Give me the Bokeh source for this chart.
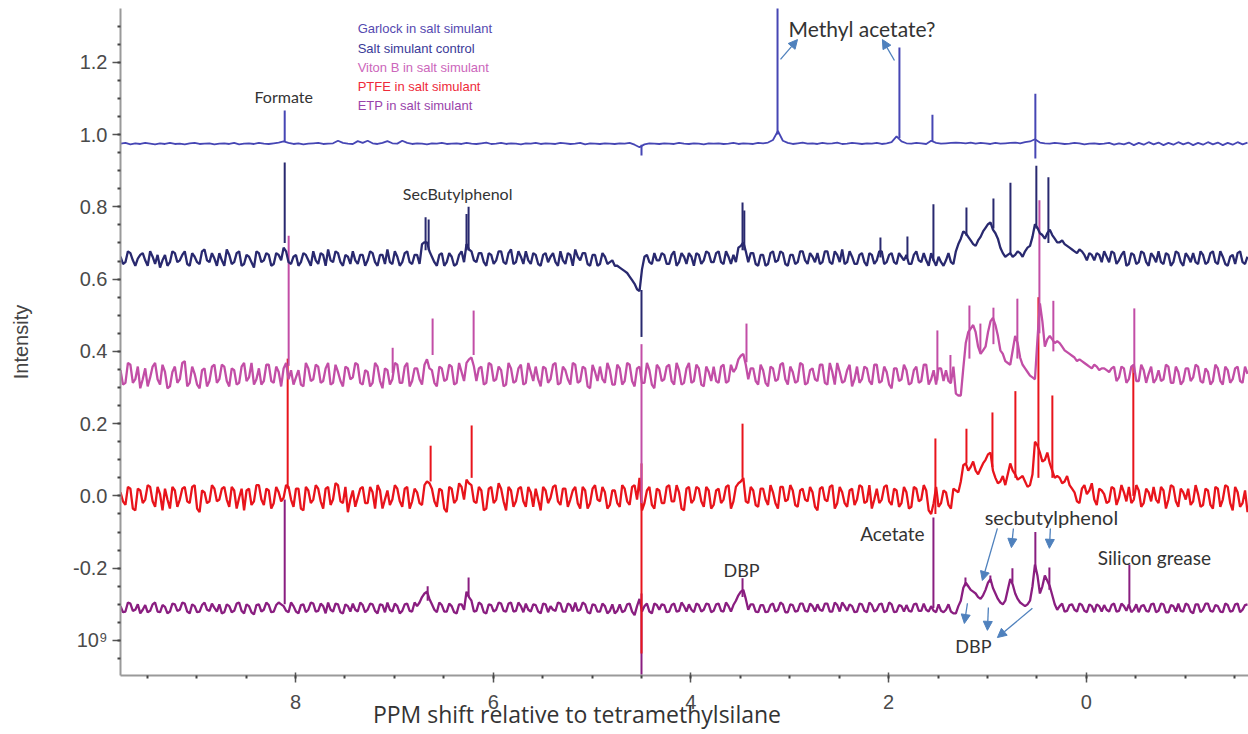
import numpy as np
from bokeh.plotting import figure
from bokeh.models import Range1d, FixedTicker, Label, Arrow, NormalHead, NumeralTickFormatter
from bokeh.embed import file_html
from bokeh.resources import INLINE

# ---------------- data ----------------
# spectra sampled on a ppm grid starting at 9.77 ppm, step 0.05 ppm (descending);
# the *_mid lists hold the readings half-way between consecutive grid points
PPM_START = 9.77
PPM_STEP = 0.05

series_names = ["Garlock in salt simulant", "Salt simulant control", "Viton B in salt simulant",
                "PTFE in salt simulant", "ETP in salt simulant"]
series_colors = ["#4646b4", "#29296f", "#c24ea6", "#e8141c", "#8a1e80"]
legend_colors = ["#5549b0", "#3a3a98", "#cc66bb", "#ee2a3a", "#9944aa"]

# stacking offsets (intensity units)
garlock_base = 0.975
control_base = 0.657
viton_base = 0.333
ptfe_base = 0.0
etp_base = -0.310

# baseline deviations, in units of 0.001
garlock_dev = [
    0, 2, -2, 1, -1, 2, 0, -2, 1, -1,
    2, -1, 0, -2, 1, 2, -1, 0, 1, -2,
    0, 1, -1, 2, -2, 0, 1, -1, 2, 0,
    -1, 1, 3, 6, 2, -1, 1, -2, 0, 1,
    2, -1, 0, 1, 8, 2, 0, -1, 7, 2,
    8, 1, -1, 2, 7, 1, 0, 8, 2, -1,
    1, 0, -2, 1, 0, 2, -1, 0, 1, -1,
    2, 0, -1, 1, 3, -1, 0, 2, -1, 1,
    0, -2, 1, 0, 2, -1, 1, 0, -1, 2,
    1, -1, 0, 2, -2, 1, 0, -1, 1, 0,
    -1, 1, 0, 2, -3, -10, -2, 1, 0, -1,
    1, 0, -1, 2, 0, -1, 1, 0, -2, 1,
    0, 1, -1, 0, 2, -1, 1, 0, -1, 2,
    1, 3, 10, 35, 8, 2, -1, 1, 3, 0,
    1, -1, 2, 0, 1, 3, -1, 0, 2, 1,
    -1, 1, 0, 2, -1, 1, 4, 20, 6, 1,
    0, 2, 1, -1, 8, 2, 0, 1, 2, 3,
    2, 1, 3, 0, 2, 1, -1, 2, 0, 1,
    2, 3, 1, 4, 6, 12, 3, 1, 0, 2,
    1, -1, 0, 2, 1, -2, 0, 1, -1, 0,
    2, -3, 1, -2, 3, -4, 2, -3, 4, -2,
    3, -4, 2, -3, 4, -2, 3, -4, 2, -3,
    4, -2, 3, -4, 2, -3, 4, -2, 3,
]

control_dev = [
    5, -10, 15, -20, 10, -5, 20, -15, -25, 10,
    -10, 15, -5, 20, -20, 5, -15, 25, -10, 0,
    15, -20, 10, -10, 20, -15, 5, -25, 15, -5,
    10, -15, 10, 30, -10, 5, -20, 15, -5, 20,
    -15, 10, 25, -10, 15, -20, 5, 20, -15, 10,
    -5, 15, -20, 10, 25, -15, 5, -10, 20, -15,
    10, 40, 45, 5, -20, 15, -10, 5, -15, 20,
    40, 20, -10, 15, -20, 10, -5, 20, -15, 25,
    -10, 5, 20, -15, 10, -20, 15, 5, -10, 20,
    -15, 10, 25, -5, 15, -20, 10, -15, 5, -10,
    -20, -25, -35, -50, -70, -90, 5, -10, 15, -5,
    10, -15, 20, -10, 5, 15, -20, 10, -5, 15,
    -10, 20, -15, 5, 10, 30, 45, -10, 15, -20,
    10, -15, 20, -5, 15, -20, 10, -10, 20, -15,
    5, 15, -10, 20, -15, 10, 25, -10, 5, -15,
    15, -20, 10, -5, 20, -10, 15, -15, 5, 10,
    -15, 20, -10, -5, 15, -20, -10, -5, -10, 20,
    55, 70, 50, 35, 60, 85, 100, 70, 30, 5,
    15, 10, 15, 20, 35, 95, 70, 55, 80, 55,
    45, 40, 30, 20, 25, 10, 15, -5, 10, 20,
    -10, 15, -5, 20, -15, 10, -10, 15, -20, 5,
    20, -15, 10, -10, 15, -20, 5, 15, -15, 10,
    -10, 20, -15, 5, -20, 10, 15, -10, 5,
]
control_mid = [
    -15, 20, -5, 0, 15, -20, 5, 10, -5, -20,
    20, -10, 10, -15, 15, -10, 20, -5, 15, -20,
    -5, 25, -15, 15, -20, 10, -10, 20, -10, 15,
    -20, 15, -5, 20, -15, 10, -10, 10, -20, -5,
    15, -20, -5, 20, -10, 10, -15, -5, 10, -20,
    20, -10, 10, -15, -10, 20, -20, 15, -10, 10,
    -15, 45, 20, -10, 10, -20, 15, -20, 10, -10,
    25, -5, 15, -10, 15, -15, 20, -10, 15, -15,
    20, -15, -5, 15, -15, 10, -10, 15, -20, -5,
    15, -20, 5, 15, -15, 10, -20, 15, -15, -5,
    -20, -30, -40, -60, -85, -30, 10, -15, -5, 15,
    -15, 10, -20, 15, -15, 5, 15, -15, 20, -10,
    15, -10, 20, -15, -10, 35, 20, 15, -15, 10,
    -20, 15, -10, 20, -15, 10, -15, 20, -5, 15,
    -10, -15, 20, -10, 20, -10, -15, 20, -15, 10,
    -10, 15, -15, 20, -15, 10, -10, 15, -5, -15,
    10, -5, 15, -20, -5, 5, -20, 15, -15, 40,
    75, 60, 40, 50, 75, 95, 80, 55, 15, 10,
    5, 20, 5, 30, 60, 85, 65, 70, 65, 45,
    50, 35, 25, 15, 20, -5, 10, 15, -10, 5,
    20, -15, 10, -20, 15, -15, 20, -10, 15, -10,
    -10, 15, -20, 20, -10, 15, -10, -10, 20, -15,
    15, -10, 20, -15, 5, -15, 20, -15,
]

viton_dev = [
    15, -20, 30, -10, -35, 20, -5, 35, -25, 10,
    -30, 25, -10, 40, -20, 5, -35, 20, -15, 30,
    -10, 25, -30, 15, -20, 35, -5, -25, 20, -15,
    30, -20, 10, 20, -10, -25, 15, -30, 20, -10,
    25, -15, 35, -20, 10, -30, 20, -5, 30, -25,
    10, -20, 25, -35, 15, -10, 30, -20, 35, -15,
    20, -25, 45, 15, -30, 20, -10, 25, -20, 10,
    35, 50, -15, 25, -20, 30, -10, 15, -25, 20,
    -15, 30, -20, 10, 25, -30, 20, -10, 35, -20,
    15, -25, 30, -15, 20, -35, 10, 25, -20, 15,
    -25, 20, -15, 30, -30, 25, -20, 15, -35, 20,
    -10, 30, -25, 15, -20, 35, -15, 20, -30, 10,
    25, -20, 30, -15, 10, 45, 60, -10, 20, -25,
    15, -30, 20, -10, 35, -25, 10, -15, 30, -20,
    20, -15, 30, -25, 10, 35, -20, 15, -30, 25,
    -10, 20, -25, 30, -15, 10, -35, 20, -10, 15,
    -20, 25, -15, 30, -10, -25, 20, 15, -20, -50,
    -55, 90, 130, 120, 60, 80, 150, 140, 70, 40,
    30, 110, 50, 20, 0, -10, 200, 80, 110, 90,
    90, 70, 60, 50, 45, 35, 25, 30, 15, 20,
    10, 25, -5, 20, -10, 30, -15, 15, 5, -20,
    15, -10, 25, -20, 10, -15, 20, -5, 25, -20,
    10, -15, 20, -25, 15, -10, 25, -20, 5,
]
viton_mid = [
    -25, 35, -20, 25, -10, -30, 25, -10, 30, -35,
    10, -20, 35, -30, 25, -25, 15, -30, 25, -20,
    30, -15, 20, -25, 25, -15, 35, -10, -25, 30,
    -15, 25, -30, 35, 15, -5, -25, 35, -15, 30,
    -20, 20, -25, 30, -15, 25, -10, 35, -20, 15,
    -30, 35, -15, 20, -25, 35, -20, 25, -30, 20,
    -10, 30, 20, -20, 25, -15, 30, -25, 35, -15,
    45, 25, 20, -25, 35, -15, 25, -30, 35, -20,
    20, -25, 35, -15, -10, 25, -20, 30, -25, 25,
    -10, 35, -20, 25, -30, 30, -15, -10, 35, -25,
    30, -25, 35, -15, 20, -20, 35, -25, 30, -15,
    25, -15, 35, -25, 20, -20, 30, -25, 25, -15,
    -15, 25, -20, 30, 20, 55, 30, 20, -15, 30,
    -20, 25, -15, 30, -10, 25, -20, 35, -25, 15,
    -10, 30, -20, 35, -25, 10, -15, 30, -10, -20,
    25, -15, 30, -20, 25, -25, 20, -15, 30, -25,
    15, -20, 30, -25, 15, 20, -15, -15, 25, -55,
    20, 120, 140, 80, 70, 120, 160, 110, 60, 35,
    70, 90, 30, 10, -5, 100, 150, 100, 100, 95,
    80, 65, 55, 40, 40, 30, 20, 25, 20, 15,
    20, -15, 25, -20, 25, -15, 30, -20, 25, -10,
    -15, 30, -20, 25, -25, 20, -15, 30, -15, 20,
    -25, 30, -15, 25, -20, 20, -15, 25,
]

ptfe_dev = [
    10, -25, 20, -40, 15, -10, 25, -30, 5, 20,
    -35, 15, -10, 25, -20, 30, -45, 10, -15, 20,
    -10, 25, -30, 15, -5, -40, 20, -15, 30, -25,
    15, -20, 10, -5, 25, -30, 20, -40, 15, -10,
    20, -35, 25, -10, 30, -20, -45, 15, -5, 25,
    -20, 10, 30, -35, 15, -10, 20, -30, 25, -15,
    10, -25, 40, 20, -30, 15, -45, 20, -10, 25,
    45, 30, -20, 15, -35, 25, -10, 20, -40, 15,
    -15, 25, -30, 10, 20, -40, 15, -5, 30, -25,
    20, -10, 25, -35, 15, -20, 30, -15, 10, -25,
    15, -30, 20, -25, 30, 50, -20, 25, -35, 15,
    -20, 30, -15, 10, -40, 25, -10, 20, -30, 15,
    -25, 20, -10, 30, -15, 35, 50, -20, 15, -30,
    20, -25, 10, -35, 25, -10, 15, -30, 20, -15,
    10, -40, 25, -15, 30, -20, 10, -30, 20, -10,
    25, -15, -35, 20, -10, 30, -25, 15, -20, 10,
    -30, 20, -10, 15, -50, 25, -20, 10, -35, 15,
    40, 90, 80, 70, 75, 100, 120, 50, 40, 30,
    90, 60, 50, 40, 30, 150, 120, 100, 90, 50,
    50, 40, 30, 10, -20, 30, 15, -10, 20, 5,
    -15, 20, -5, 10, 25, -10, 15, -20, 10, 25,
    -20, 15, -10, 25, -30, 10, 20, -15, 5, -25,
    15, -35, 20, -10, 25, -40, 10, -20, -45,
]
ptfe_mid = [
    -15, 25, -35, 20, -20, 30, -15, 25, -40, -10,
    25, -30, 20, -15, 25, -35, 15, -20, 30, -15,
    20, -10, 25, -35, 20, 15, -25, 30, -10, 20,
    -35, 25, -15, 30, -10, 20, -35, 25, -20, 30,
    -15, 20, -25, 35, -15, 25, -10, -30, 20, -20,
    25, -35, 15, -10, -25, 30, -15, 20, -35, 20,
    -20, 30, 35, -15, 20, -35, 25, -20, 35, -10,
    35, -15, 25, -40, 20, -20, 35, -15, 25, -30,
    20, -15, 25, -30, -10, 25, -20, 25, -15, 20,
    -30, 15, -20, 25, -35, 20, -10, 25, -35, 15,
    -20, 30, -15, 25, -10, -40, 15, -25, 20, -20,
    25, -15, 30, -35, 20, -20, 25, -15, 25, -35,
    15, -20, 25, -35, 25, 40, -15, 25, -25, 20,
    -10, 30, -20, 25, -15, 30, -25, 15, -10, 25,
    -30, 20, -10, 25, -35, 25, -20, 15, -25, 30,
    -20, 30, -10, -20, 25, -15, 20, -30, 25, -35,
    25, -15, 30, -40, -20, -30, 15, -25, 20, 10,
    85, 70, 95, 60, 90, 115, 70, 35, 55, 60,
    70, 45, 55, 25, 60, 140, 95, 120, 70, 55,
    35, 55, 20, -15, 20, 5, 35, -25, 15, -20,
    25, -25, 30, -15, -20, 30, -30, 20, -15, -10,
    25, -35, 30, -15, 20, -10, -25, 30, -30, 20,
    -25, 25, -30, 30, -20, 25, -30, 15,
]

etp_dev = [
    5, -10, 12, -5, -15, 8, -8, 15, -12, 3,
    -10, 10, -5, 12, -15, 5, -10, 15, -8, 0,
    10, -12, 5, -8, 15, -15, 5, -18, 10, -5,
    8, -10, 15, 5, -12, 5, -15, 10, -5, 12,
    -8, 5, 15, -10, 10, -15, 5, 12, -10, 8,
    -5, 10, -15, 8, 15, -10, 5, -8, 12, -10,
    5, 30, 45, 10, -12, 8, -10, 5, -15, 10,
    45, 20, -8, 10, -15, 8, -5, 12, -10, 15,
    -8, 5, 12, -10, 8, -15, 10, 5, -8, 12,
    -10, 8, 15, -5, 10, -15, 8, -10, 5, -8,
    -15, 10, -8, 12, -20, 25, 5, -10, 12, -5,
    8, -10, 12, -8, 5, 10, -12, 8, -5, 10,
    -8, 12, -10, 5, 8, 35, 50, -5, 10, -12,
    8, -10, 12, -5, 10, -12, 8, -8, 12, -10,
    5, 10, -8, 12, -10, 8, 15, -8, 5, -10,
    10, -12, 8, -5, 12, -8, 10, -10, 5, 8,
    -10, 12, -8, -5, 5, -12, -8, -5, -10, -15,
    20, 70, 50, 40, 25, 50, 80, 40, 15, 20,
    80, 40, 15, 5, 20, 120, 40, 90, 60, 10,
    5, -10, 8, -5, 12, -8, 10, -12, 5, 8,
    -10, 12, -8, 5, 10, -5, -12, 8, -10, 12,
    -8, 10, -12, 5, 12, -10, 8, -15, 10, -5,
    12, -10, 5, -12, 8, -8, 12, -5, 10,
]
etp_mid = [
    -12, 15, -8, 10, -5, -12, 10, -10, 8, -15,
    12, -8, 15, -10, 10, -12, 8, -5, 12, -10,
    -15, 10, -12, 12, -8, 10, -12, 8, -10, 15,
    -12, 8, 10, -8, 15, -10, 8, -12, 15, -10,
    12, -15, -5, 12, -12, 10, -10, -5, 15, -12,
    12, -8, 10, -12, -5, 12, -15, 10, -8, 15,
    15, 40, 25, -5, 15, -10, 12, -12, 10, -5,
    30, -10, 15, -12, 10, -10, 15, -8, 12, -10,
    15, -12, -5, 10, -10, 12, -12, -5, 15, -10,
    12, -10, -8, 15, -12, 10, -10, 12, -15, 10,
    -8, -12, 10, -10, 5, -10, 12, -15, 8, 10,
    -12, 8, -10, 15, -10, -5, 12, -10, 12, -12,
    10, -8, 15, -10, 20, 45, 25, 10, -10, 8,
    -12, 8, -10, 15, -12, 10, -10, 12, -8, 12,
    -10, -5, 12, -10, 15, -10, 5, 10, -12, 12,
    -8, 15, -10, 10, -12, 15, -12, 8, -10, -8,
    10, -8, 12, -10, -8, 10, -12, 10, -15, 5,
    55, 60, 45, 30, 35, 70, 55, 25, 10, 50,
    65, 25, 10, 10, 60, 90, 60, 75, 35, -5,
    12, -8, 10, -10, 8, -12, 5, 10, -10, -5,
    8, -10, 12, -8, -12, 10, 5, -8, 10, -12,
    12, -12, 8, -10, -8, 12, -10, 10, -12, 12,
    -8, 8, -10, 12, -10, 10, -12, 8,
]

# sharp lines: position (ppm), foot and tip intensity
garlock_spike_ppm = [8.109, 4.50, 3.124, 1.891, 1.557, 0.516]
garlock_spike_lo = [0.980, 0.972, 1.000, 0.990, 0.980, 0.934]
garlock_spike_hi = [1.067, 0.942, 1.360, 1.241, 1.055, 1.113]

control_spike_ppm = [8.109, 6.684, 6.653, 6.249, 6.27, 4.50, 3.478, 3.46, 2.083, 1.81, 1.547, 1.213, 0.94, 0.768, 0.506, 0.384]
control_spike_lo = [0.700, 0.680, 0.680, 0.680, 0.680, 0.570, 0.680, 0.680, 0.660, 0.660, 0.650, 0.720, 0.740, 0.670, 0.740, 0.700]
control_spike_hi = [0.923, 0.771, 0.765, 0.800, 0.780, 0.440, 0.812, 0.790, 0.715, 0.718, 0.807, 0.798, 0.823, 0.867, 0.914, 0.882]

viton_spike_ppm = [8.069, 7.017, 6.613, 6.198, 4.50, 3.438, 1.507, 1.375, 1.183, 1.072, 0.940, 0.698, 0.475, 0.334, -0.485]
viton_spike_lo = [0.360, 0.340, 0.390, 0.390, 0.420, 0.370, 0.320, 0.310, 0.380, 0.400, 0.420, 0.380, 0.450, 0.400, 0.340]
viton_spike_hi = [0.720, 0.410, 0.491, 0.513, -0.020, 0.477, 0.458, 0.390, 0.527, 0.477, 0.521, 0.546, 0.818, 0.540, 0.519]

ptfe_spike_ppm = [8.079, 6.633, 6.218, 4.50, 3.478, 1.527, 1.213, 0.950, 0.718, 0.485, 0.344, -0.475]
ptfe_spike_lo = [0.020, 0.040, 0.050, 0.090, 0.050, -0.050, 0.090, 0.080, 0.050, 0.050, 0.050, 0.000]
ptfe_spike_hi = [0.380, 0.139, 0.195, -0.436, 0.200, 0.159, 0.186, 0.231, 0.290, 0.550, 0.278, 0.360]

etp_spike_ppm = [8.109, 6.663, 6.249, 4.50, 3.478, 1.547, 1.223, 0.971, 0.748, 0.516, 0.374, -0.435]
etp_spike_lo = [-0.300, -0.290, -0.280, -0.270, -0.280, -0.310, -0.250, -0.240, -0.240, -0.200, -0.260, -0.300]
etp_spike_hi = [-0.010, -0.250, -0.226, -0.495, -0.228, -0.060, -0.226, -0.220, -0.200, -0.100, -0.198, -0.190]

xtick_values = [8, 6, 4, 2, 0]
ytick_values = [-0.4, -0.2, 0.0, 0.2, 0.4, 0.6, 0.8, 1.0, 1.2]


def trace_xy(base, dev, mid):
    x = list(PPM_START - PPM_STEP * np.arange(len(dev)))
    y = list(base + np.array(dev) / 1000.0)
    if mid:
        xm = PPM_START - PPM_STEP * (np.arange(len(mid)) + 0.5)
        x += list(xm)
        y += list(base + np.array(mid) / 1000.0)
    order = np.argsort(-np.array(x), kind="stable")
    return np.array(x)[order], np.array(y)[order]


# ---------------- figure ----------------
p = figure(width=1248, height=734, output_backend="svg", toolbar_location=None,
           x_range=Range1d(9.77, -1.64), y_range=Range1d(-0.497, 1.349),
           min_border_left=120, min_border_right=0, min_border_top=8, min_border_bottom=59)
p.outline_line_color = None
p.grid.visible = False
p.background_fill_color = "white"

traces = [
    (etp_base, etp_dev, etp_mid, etp_spike_ppm, etp_spike_lo, etp_spike_hi, series_colors[4], 2.3),
    (ptfe_base, ptfe_dev, ptfe_mid, ptfe_spike_ppm, ptfe_spike_lo, ptfe_spike_hi, series_colors[3], 2.3),
    (viton_base, viton_dev, viton_mid, viton_spike_ppm, viton_spike_lo, viton_spike_hi, series_colors[2], 2.3),
    (control_base, control_dev, control_mid, control_spike_ppm, control_spike_lo, control_spike_hi, series_colors[1], 2.3),
    (garlock_base, garlock_dev, None, garlock_spike_ppm, garlock_spike_lo, garlock_spike_hi, series_colors[0], 1.8),
]
for base, dev, mid, sp, lo, hi, col, lw in traces:
    xs, ys = trace_xy(base, dev, mid)
    p.line(xs, ys, line_color=col, line_width=lw)
    p.segment(x0=sp, y0=lo, x1=sp, y1=hi, line_color=col, line_width=2)

# axes
xa = p.xaxis[0]
ya = p.yaxis[0]
xa.ticker = FixedTicker(ticks=xtick_values, minor_ticks=list(np.arange(-1.5, 10.0, 0.5)))
ya.ticker = FixedTicker(ticks=ytick_values, minor_ticks=list(np.round(np.arange(-0.45, 1.36, 0.05), 2)))
ya.formatter = NumeralTickFormatter(format="0.0")
ya.major_label_overrides = {-0.4: "10⁹"}

for ax in (xa, ya):
    ax.axis_line_color = "#9a9a9a"
    ax.axis_line_width = 2
    ax.major_tick_line_color = "#555555"
    ax.major_tick_line_width = 1.5
    ax.minor_tick_line_color = "#444444"
    ax.minor_tick_line_width = 2
    ax.major_label_text_font = "Liberation Sans"
    ax.major_label_text_font_size = "20px"
    ax.major_label_text_color = "#4a4a4a"
    ax.axis_label_text_font_style = "normal"

ya.major_tick_out = 8
ya.major_tick_in = 0
ya.minor_tick_out = 3
ya.minor_tick_in = 0
ya.major_label_standoff = 5
ya.axis_label = "Intensity"
ya.axis_label_text_font = "Liberation Sans"
ya.axis_label_text_font_size = "20px"
ya.axis_label_text_color = "#444444"
ya.axis_label_standoff = 38

xa.major_tick_out = 7
xa.major_tick_in = 3
xa.minor_tick_out = 3
xa.minor_tick_in = 0
xa.major_label_standoff = 12
# the title sits left of centre in the original: trailing no-break spaces shift it
xa.axis_label = "PPM shift relative to tetramethylsilane" + "\u00a0" * 36
xa.axis_label_text_font = "Open Sans"
xa.axis_label_text_font_size = "23px"
xa.axis_label_text_color = "#333333"
xa.axis_label_standoff = -14

# legend (text only)
legend_y = [1.293, 1.239, 1.186, 1.133, 1.080]
for name, col, ly in zip(series_names, legend_colors, legend_y):
    p.add_layout(Label(x=7.371, y=ly, text=name, text_font="Liberation Sans", text_font_size="13px",
                       text_color=col, text_baseline="middle", text_align="left"))

# annotations
ann = [
    ("Formate", 8.119, 1.105, "16px", "center"),
    ("Methyl acetate?", 3.013, 1.294, "21px", "left"),
    ("SecButylphenol", 6.36, 0.837, "16px", "center"),
    ("Acetate", 1.962, -0.104, "19px", "center"),
    ("secbutylphenol", 0.354, -0.059, "20px", "center"),
    ("DBP", 1.143, -0.414, "18px", "center"),
    ("DBP", 3.488, -0.206, "18px", "center"),
    ("Silicon grease", -0.688, -0.170, "19px", "center"),
]
for t, x, y, fs, al in ann:
    p.add_layout(Label(x=x, y=y, text=t, text_font="Lato", text_font_size=fs,
                       text_color="#333333", text_baseline="middle", text_align=al))

acol = "#4f81bd"
arrows = [
    (3.094, 1.208, 2.922, 1.263),
    (1.941, 1.205, 2.063, 1.263),
    (0.900, -0.090, 1.052, -0.234),
    (0.738, -0.090, 0.758, -0.143),
    (0.364, -0.090, 0.374, -0.145),
    (1.203, -0.297, 1.234, -0.353),
    (0.991, -0.309, 1.001, -0.372),
    (0.546, -0.311, 0.900, -0.392),
]
for x0, y0, x1, y1 in arrows:
    p.add_layout(Arrow(end=NormalHead(size=9, fill_color=acol, line_color=acol),
                       x_start=x0, y_start=y0, x_end=x1, y_end=y1,
                       line_color=acol, line_width=1.3))

open("out.html", "w").write(file_html(p, INLINE))
